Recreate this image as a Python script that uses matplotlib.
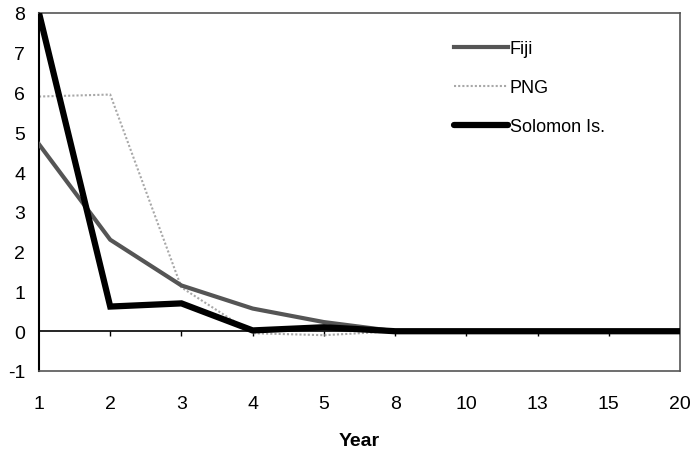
import numpy as np
import matplotlib.pyplot as plt

plt.rcParams['font.family'] = ['Liberation Sans', 'DejaVu Sans']
plt.rcParams['axes.unicode_minus'] = False

# Data
years = ['1', '2', '3', '4', '5', '8', '10', '13', '15', '20']
fiji = [4.7, 2.3, 1.15, 0.57, 0.23, 0.0, 0.0, 0.0, 0.0, 0.0]
png = [5.9, 5.95, 1.1, -0.05, -0.1, 0.0, 0.0, 0.0, 0.0, 0.0]
solomon = [8.0, 0.62, 0.7, 0.02, 0.1, 0.0, 0.0, 0.0, 0.0, 0.0]

x = np.arange(len(years))

fig = plt.figure(figsize=(6.95, 4.56), dpi=100)
ax = fig.add_axes([39 / 695, 1 - 372 / 456, (680 - 39) / 695, (372 - 14) / 456])

ax.plot(x, fiji, color='#555555', lw=3.0, label='Fiji', zorder=3)
ax.plot(x, png, color='#a8a8a8', lw=1.5, ls=(0, (1, 1)), label='PNG', zorder=2)
ax.plot(x, solomon, color='black', lw=4.5, label='Solomon Is.', zorder=4,
        solid_capstyle='round', solid_joinstyle='miter')

# zero line with small ticks like excel
ax.axhline(0, color='black', lw=1.2, zorder=1)
ax.vlines(x[1:], 0, -0.12, color='black', lw=1.0, zorder=1)

ax.set_xlim(x[0], x[-1])
ax.set_ylim(-1, 8)
ax.set_yticks(range(-1, 9))
ax.set_xticks(x)
ax.set_xticklabels(years)

ax.tick_params(axis='x', length=0, pad=17, labelsize=14)
ax.tick_params(axis='y', length=0, pad=10, labelsize=14)

for s in ['top', 'bottom', 'right']:
    ax.spines[s].set_color('#555555')
    ax.spines[s].set_linewidth(1.2)
ax.spines['left'].set_color('black')
ax.spines['left'].set_linewidth(1.5)

ax.set_xlabel('Year', fontsize=14, fontweight='bold', labelpad=15)

leg = ax.legend(loc='upper left', bbox_to_anchor=(0.622, 0.97), frameon=False,
                fontsize=13, handlelength=3.0, handletextpad=0.1,
                labelspacing=1.22)

plt.savefig('out.png', dpi=100)
